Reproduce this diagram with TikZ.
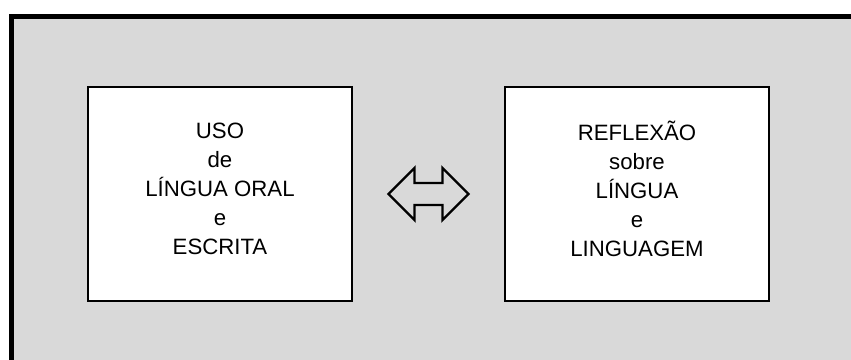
\documentclass[tikz,border=0pt]{standalone}
\usepackage{fontspec}
\setmainfont{Liberation Sans}
\usepackage{tikz}
\usetikzlibrary{calc}
\definecolor{panelgray}{RGB}{217,217,217}
\def\dblarrow{-- ++(26,-26) -- ++(0,15) -- ++(28,0) -- ++(0,-15) -- ++(26,26) -- ++(-26,26) -- ++(0,-15) -- ++(-28,0) -- ++(0,15) -- cycle}
\tikzset{
  topicbox/.style={draw, line width=1.1pt, fill=white, minimum width=132pt, minimum height=107pt},
  boxtext/.style={align=center, yshift=2.8pt, font=\fontsize{11.1}{14.5}\selectfont},
}

\begin{document}
\begin{tikzpicture}[x=0.5pt, y=-0.5pt]
                \useasboundingbox (0,0) rectangle (851,359);
                \clip (0,0) rectangle (851,359);
                \draw[line width=2.5pt, fill=panelgray] (11,16.5) rectangle (880,390);
                \node[topicbox, label={[boxtext]center:USO\\de\\LÍNGUA ORAL\\e\\ESCRITA}] (uso) at (220,194) {};
                \node[topicbox, label={[boxtext]center:REFLEXÃO\\sobre\\LÍNGUA\\e\\LINGUAGEM}] (reflexao) at (637,194) {};
                \coordinate (mid) at ($(uso.east)!0.5!(reflexao.west)$);
                \draw[line width=1.2pt, miter limit=10] ($(mid)+(-40,0)$) \dblarrow;
            \end{tikzpicture}
\end{document}
